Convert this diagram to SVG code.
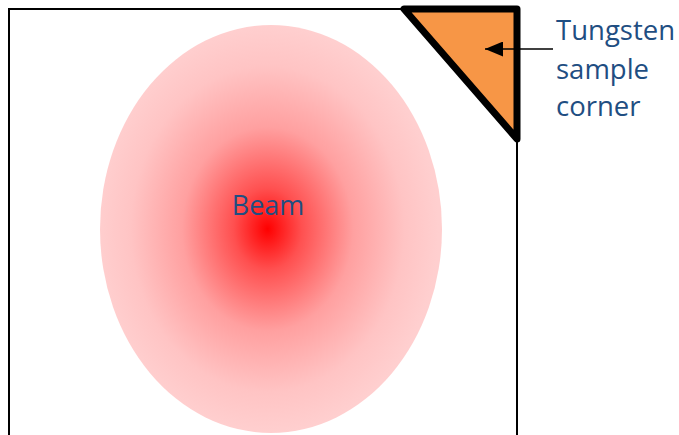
<svg xmlns="http://www.w3.org/2000/svg" width="679" height="435" viewBox="0 0 679 435">
<defs>
<radialGradient id="beamGrad" cx="0.49" cy="0.5" r="0.5" fx="0.49" fy="0.5">
<stop offset="0" stop-color="#FF0000"/>
<stop offset="0.2" stop-color="#FF5050"/>
<stop offset="0.5" stop-color="#FFA0A0"/>
<stop offset="0.8" stop-color="#FFC4C4"/>
<stop offset="1" stop-color="#FFCFCF"/>
</radialGradient>
<marker id="arrow" viewBox="0 0 10 10" refX="10" refY="5" markerWidth="18" markerHeight="15" markerUnits="userSpaceOnUse" orient="auto" preserveAspectRatio="none">
<path d="M0,0 L10,5 L0,10 z" fill="#000"/>
</marker>
</defs>
<style>
.lbl { font-family: "Open Sans", "Noto Sans", sans-serif; fill: #1F4E82; }
</style>
<rect width="679" height="435" fill="#fff"/>
<g id="frame">
<path d="M9,440 L9,9 L404,9 M517,140 L517,440" fill="none" stroke="#000" stroke-width="2"/>
</g>
<g id="beam">
<ellipse cx="271" cy="229" rx="171" ry="204" fill="url(#beamGrad)"/>
<text class="lbl" x="268" y="215" font-size="27" text-anchor="middle">Beam</text>
</g>
<g id="corner">
<polygon points="404,9 517,9 517,139" fill="#F79646" stroke="#000" stroke-width="7" stroke-linejoin="round"/>
</g>
<g id="connectors">
<line x1="553" y1="49" x2="485" y2="49" stroke="#000" stroke-width="1.5" marker-end="url(#arrow)"/>
</g>
<g id="label">
<text class="lbl" font-size="27.5"><tspan x="556" y="40">Tungsten</tspan><tspan x="556" y="79">sample</tspan><tspan x="556" y="116">corner</tspan></text>
</g>
</svg>
